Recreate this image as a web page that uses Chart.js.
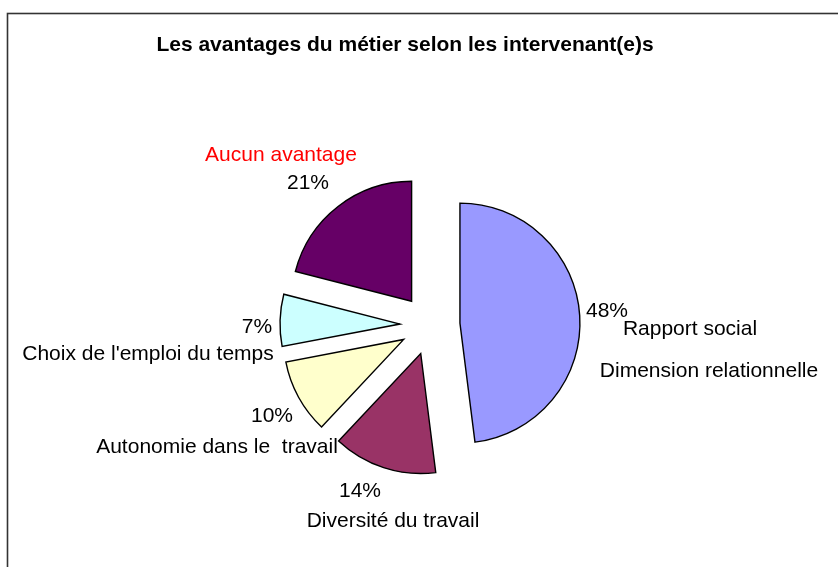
<!DOCTYPE html>
<html>
<head>
<meta charset="utf-8">
<script src="https://cdn.jsdelivr.net/npm/chart.js@4.4.1/dist/chart.umd.min.js"></script>
<style>
  html, body { margin: 0; padding: 0; background: #ffffff; }
  #wrap { width: 838px; height: 567px; }
</style>
</head>
<body>
<div id="wrap"><canvas id="c" width="838" height="567"></canvas></div>
<script>
// ---- data ----
const chartTitle = "Les avantages du métier selon les intervenant(e)s";
const categories = [
  ["Rapport social", "Dimension relationnelle"],
  ["Diversité du travail"],
  ["Autonomie dans le  travail"],
  ["Choix de l'emploi du temps"],
  ["Aucun avantage"]
];
const values = [48, 14, 10, 7, 21];
const percentLabels = ["48%", "14%", "10%", "7%", "21%"];

// ---- styles ----
const sliceColors = ["#9999FF", "#993366", "#FFFFCC", "#CCFFFF", "#660066"];
const categoryColors = ["#000000", "#000000", "#000000", "#000000", "#FF0000"];
const EXPLODE = 30;
const FONT = "'Liberation Sans', Arial, Helvetica, sans-serif";
// label anchors relative to pie centre: percent [dx, dy], category lines [[dx, dy], ...]
const pctPos = [[177, -8], [-70, 172], [-158, 97], [-173, 8], [-122, -136]];
const catPos = [
  [[260, 10], [279, 52]],
  [[-37, 202]],
  [[-213, 128]],
  [[-282, 35]],
  [[-149, -164]]
];

const explodePlugin = {
  id: 'explode',
  beforeDatasetDraw(chart, args) {
    const ctx = chart.ctx;
    args.meta.data.forEach(arc => {
      const mid = (arc.startAngle + arc.endAngle) / 2;
      ctx.save();
      ctx.translate(Math.cos(mid) * EXPLODE, Math.sin(mid) * EXPLODE);
      arc.draw(ctx);
      ctx.restore();
    });
    return false;
  }
};

const framePlugin = {
  id: 'frame',
  beforeDraw(chart) {
    const ctx = chart.ctx;
    ctx.save();
    ctx.fillStyle = '#ffffff';
    ctx.fillRect(0, 0, chart.width, chart.height);
    ctx.strokeStyle = '#333333';
    ctx.lineWidth = 1.6;
    ctx.strokeRect(7.5, 13.5, chart.width + 20, chart.height + 20);
    ctx.restore();
  }
};

const textPlugin = {
  id: 'texts',
  afterDraw(chart) {
    const ctx = chart.ctx;
    const arc0 = chart.getDatasetMeta(0).data[0];
    const cx = arc0.x, cy = arc0.y;
    ctx.save();
    ctx.textAlign = 'center';
    ctx.textBaseline = 'alphabetic';
    ctx.fillStyle = '#000000';
    ctx.font = "bold 21px " + FONT;
    ctx.fillText(chartTitle, 405, 51);
    ctx.font = "21px " + FONT;
    values.forEach((v, i) => {
      ctx.fillStyle = '#000000';
      ctx.fillText(percentLabels[i], cx + pctPos[i][0], cy + pctPos[i][1]);
      ctx.fillStyle = categoryColors[i];
      categories[i].forEach((line, j) => {
        ctx.fillText(line, cx + catPos[i][j][0], cy + catPos[i][j][1]);
      });
    });
    ctx.restore();
  }
};

new Chart(document.getElementById('c'), {
  type: 'pie',
  data: {
    labels: categories.map(c => c.join(' ')),
    datasets: [{
      data: values,
      backgroundColor: sliceColors,
      borderColor: '#000000',
      borderWidth: 1.4,
      borderJoinStyle: 'miter',
      offset: 0,
      hoverOffset: 0,
      radius: 120
    }]
  },
  options: {
    responsive: false,
    devicePixelRatio: 1,
    animation: false,
    layout: { padding: { left: 172, right: 150, top: 133, bottom: 50 } },
    plugins: {
      legend: { display: false },
      title: { display: false },
      tooltip: { enabled: false }
    },
    events: []
  },
  plugins: [framePlugin, explodePlugin, textPlugin]
});
</script>
</body>
</html>
